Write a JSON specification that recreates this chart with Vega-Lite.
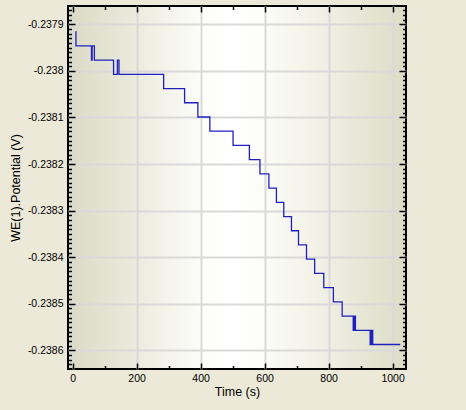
{
  "$schema": "https://vega.github.io/schema/vega-lite/v6.json",
  "width": 338,
  "height": 363,
  "autosize": "none",
  "padding": {"left": 68, "top": 6, "right": 60, "bottom": 41},
  "background": "#ECE9D8",
  "config": {
    "view": {
      "stroke": "#000000",
      "strokeWidth": 2,
      "fill": {
        "gradient": "linear",
        "x1": 0, "y1": 0, "x2": 1, "y2": 0,
        "stops": [
          {"offset": 0, "color": "#DADAC4"},
          {"offset": 0.2, "color": "#EBEBDE"},
          {"offset": 0.4, "color": "#FDFDFA"},
          {"offset": 0.5, "color": "#FFFFFF"},
          {"offset": 0.6, "color": "#FBFBF6"},
          {"offset": 0.82, "color": "#EBEBDD"},
          {"offset": 1, "color": "#DCDCC6"}
        ]
      }
    },
    "axis": {
      "labelFont": "Liberation Sans",
      "titleFont": "Liberation Sans",
      "labelColor": "#000000",
      "titleColor": "#000000",
      "titleFontWeight": "normal",
      "tickColor": "#000000",
      "tickWidth": 1.5,
      "domain": false,
      "offset": 0
    }
  },
  "datasets": {
    "pot": [
      {"t": 9.5, "v": -0.2379159},
      {"t": 10.5, "v": -0.2379464},
      {"t": 59, "v": -0.2379769},
      {"t": 61, "v": -0.2379464},
      {"t": 68, "v": -0.2379769},
      {"t": 128, "v": -0.2380075},
      {"t": 140, "v": -0.2379769},
      {"t": 145, "v": -0.2380075},
      {"t": 284.5, "v": -0.238038},
      {"t": 350, "v": -0.2380685},
      {"t": 391.5, "v": -0.238099},
      {"t": 429, "v": -0.2381295},
      {"t": 501.5, "v": -0.2381601},
      {"t": 552.5, "v": -0.2381906},
      {"t": 585.5, "v": -0.2382211},
      {"t": 613.5, "v": -0.2382516},
      {"t": 637, "v": -0.2382821},
      {"t": 660, "v": -0.2383127},
      {"t": 684, "v": -0.2383432},
      {"t": 706, "v": -0.2383737},
      {"t": 731, "v": -0.2384042},
      {"t": 756.5, "v": -0.2384347},
      {"t": 785, "v": -0.2384653},
      {"t": 815, "v": -0.2384958},
      {"t": 842.5, "v": -0.2385263},
      {"t": 877, "v": -0.2385568},
      {"t": 880, "v": -0.2385263},
      {"t": 884, "v": -0.2385568},
      {"t": 930, "v": -0.2385873},
      {"t": 934, "v": -0.2385568},
      {"t": 938, "v": -0.2385873},
      {"t": 1024, "v": -0.2385873}
    ]
  },
  "data": {"name": "pot"},
  "resolve": {"axis": {"x": "independent", "y": "independent"}},
  "layer": [
    {
      "mark": {"type": "line", "interpolate": "step-after", "color": "#2020c0", "strokeWidth": 1.3, "clip": true},
      "encoding": {
        "x": {
          "field": "t", "type": "quantitative",
          "scale": {"domain": [-14.4, 1042], "nice": false, "zero": false},
          "axis": {
            "orient": "bottom", "values": [0, 200, 400, 600, 800, 1000],
            "labelExpr": "'' + datum.value",
            "grid": true, "gridColor": "#D9D9D9", "gridWidth": 2,
            "tickSize": -6, "labelPadding": 10, "labelFontSize": 10.5,
            "title": "Time (s)", "titleFontSize": 12.5, "titlePadding": 2
          }
        },
        "y": {
          "field": "v", "type": "quantitative",
          "scale": {"domain": [-0.2386399, -0.2378608], "nice": false, "zero": false},
          "axis": {
            "orient": "left",
            "values": [-0.2379, -0.238, -0.2381, -0.2382, -0.2383, -0.2384, -0.2385, -0.2386],
            "labelExpr": "'' + datum.value",
            "grid": true, "gridColor": "#D9D9D9", "gridWidth": 2,
            "tickSize": -7, "labelPadding": 12, "labelFontSize": 10.5,
            "title": "WE(1).Potential (V)", "titleFontSize": 12.5, "titlePadding": 5
          }
        }
      }
    },
    {
      "mark": {"type": "line", "strokeOpacity": 0},
      "encoding": {
        "x": {
          "field": "t", "type": "quantitative",
          "axis": {"orient": "top", "values": [0, 200, 400, 600, 800, 1000], "grid": false, "labels": false, "title": null, "tickSize": -6}
        },
        "y": {
          "field": "v", "type": "quantitative",
          "axis": {"orient": "right", "values": [-0.2379, -0.238, -0.2381, -0.2382, -0.2383, -0.2384, -0.2385, -0.2386], "grid": false, "labels": false, "title": null, "tickSize": -7}
        }
      }
    },
    {
      "mark": {"type": "line", "strokeOpacity": 0},
      "encoding": {
        "x": {
          "field": "t", "type": "quantitative",
          "axis": {"orient": "bottom", "values": [100, 300, 500, 700, 900], "grid": false, "labels": false, "title": null, "tickSize": -3.5}
        },
        "y": {
          "field": "v", "type": "quantitative",
          "axis": {"orient": "left", "values": [-0.23787, -0.23788, -0.23789, -0.23791, -0.23792, -0.23793, -0.23794, -0.23795, -0.23796, -0.23797, -0.23798, -0.23799, -0.23801, -0.23802, -0.23803, -0.23804, -0.23805, -0.23806, -0.23807, -0.23808, -0.23809, -0.23811, -0.23812, -0.23813, -0.23814, -0.23815, -0.23816, -0.23817, -0.23818, -0.23819, -0.23821, -0.23822, -0.23823, -0.23824, -0.23825, -0.23826, -0.23827, -0.23828, -0.23829, -0.23831, -0.23832, -0.23833, -0.23834, -0.23835, -0.23836, -0.23837, -0.23838, -0.23839, -0.23841, -0.23842, -0.23843, -0.23844, -0.23845, -0.23846, -0.23847, -0.23848, -0.23849, -0.23851, -0.23852, -0.23853, -0.23854, -0.23855, -0.23856, -0.23857, -0.23858, -0.23859, -0.23861, -0.23862, -0.23863], "grid": false, "labels": false, "title": null, "tickSize": -3.5}
        }
      }
    },
    {
      "mark": {"type": "line", "strokeOpacity": 0},
      "encoding": {
        "x": {
          "field": "t", "type": "quantitative",
          "axis": {"orient": "top", "values": [100, 300, 500, 700, 900], "grid": false, "labels": false, "title": null, "tickSize": -3.5}
        },
        "y": {
          "field": "v", "type": "quantitative",
          "axis": {"orient": "right", "values": [-0.23787, -0.23788, -0.23789, -0.23791, -0.23792, -0.23793, -0.23794, -0.23795, -0.23796, -0.23797, -0.23798, -0.23799, -0.23801, -0.23802, -0.23803, -0.23804, -0.23805, -0.23806, -0.23807, -0.23808, -0.23809, -0.23811, -0.23812, -0.23813, -0.23814, -0.23815, -0.23816, -0.23817, -0.23818, -0.23819, -0.23821, -0.23822, -0.23823, -0.23824, -0.23825, -0.23826, -0.23827, -0.23828, -0.23829, -0.23831, -0.23832, -0.23833, -0.23834, -0.23835, -0.23836, -0.23837, -0.23838, -0.23839, -0.23841, -0.23842, -0.23843, -0.23844, -0.23845, -0.23846, -0.23847, -0.23848, -0.23849, -0.23851, -0.23852, -0.23853, -0.23854, -0.23855, -0.23856, -0.23857, -0.23858, -0.23859, -0.23861, -0.23862, -0.23863], "grid": false, "labels": false, "title": null, "tickSize": -3.5}
        }
      }
    }
  ]
}
